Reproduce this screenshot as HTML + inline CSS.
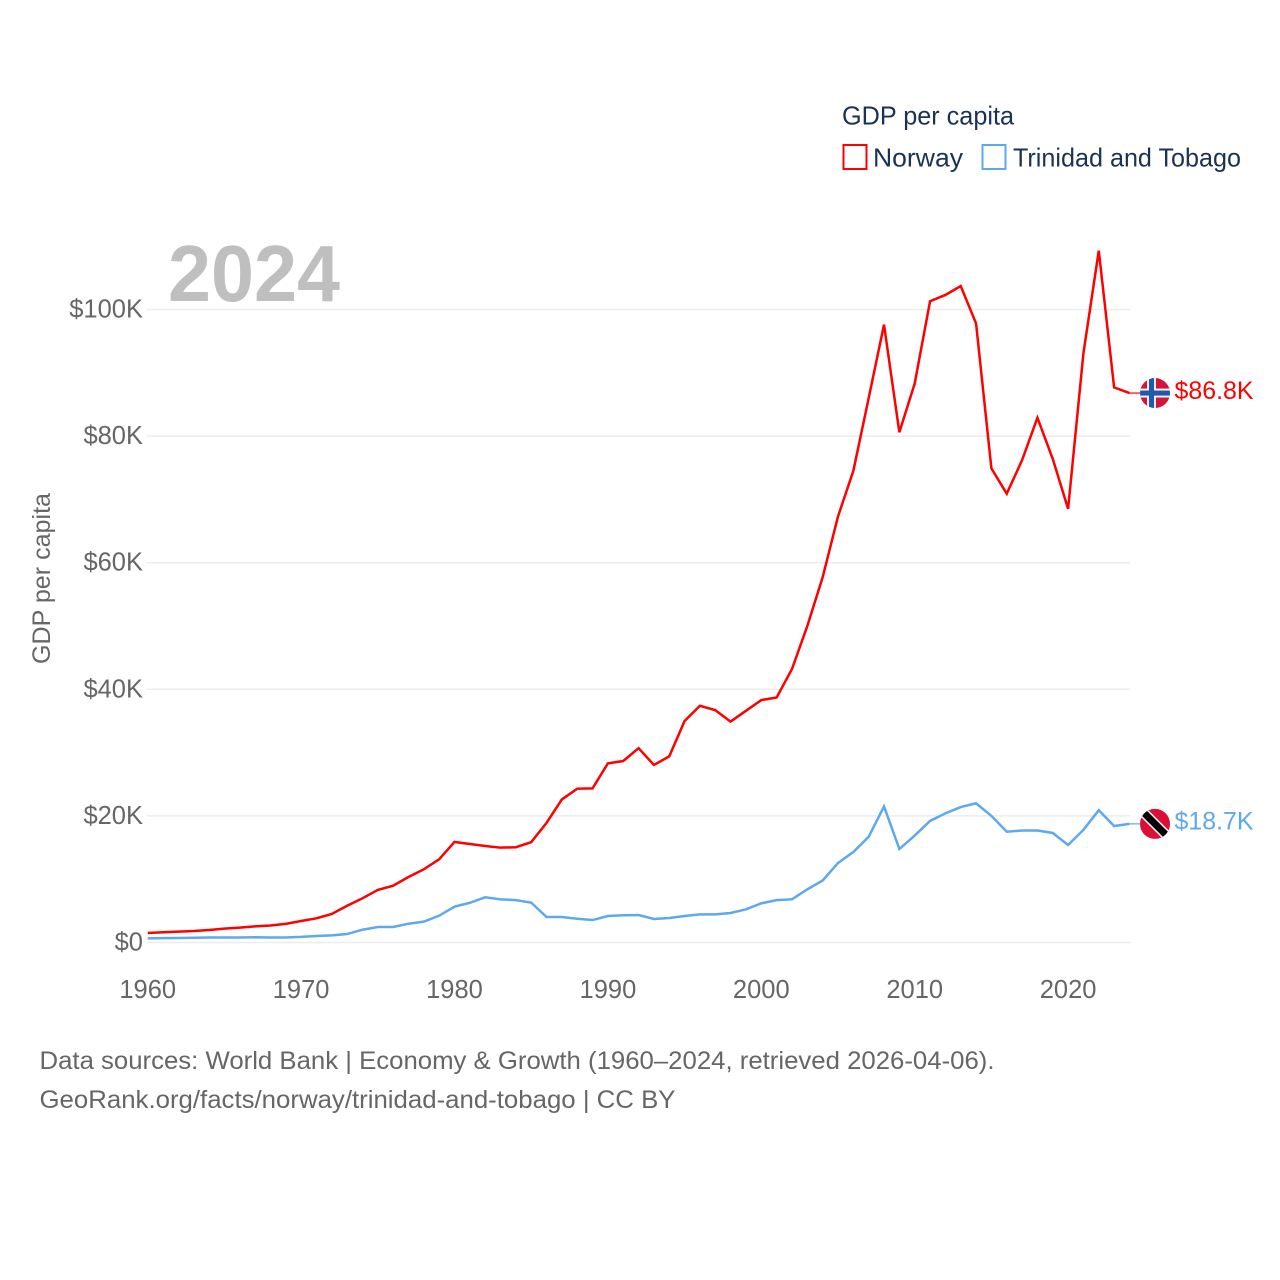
<!DOCTYPE html>
<html lang="en">
<head>
<meta charset="utf-8">
<title>GDP per capita: Norway and Trinidad and Tobago</title>
<style>
html,body{margin:0;padding:0;background:#fff;width:1280px;height:1280px;overflow:hidden}
svg{display:block}
text{font-family:"Liberation Sans","DejaVu Sans",sans-serif}
</style>
</head>
<body>
<svg id="chart" xmlns="http://www.w3.org/2000/svg" width="1280" height="1280" viewBox="0 0 1280 1280">
  <g id="grid"></g>
  <g id="yticks"></g>
  <g id="xticks"></g>
  <text x="168" y="301" font-size="80" font-weight="700" fill="#bfbfbf" textLength="172" lengthAdjust="spacingAndGlyphs">2024</text>
  <text transform="translate(50,578.5) rotate(-90)" text-anchor="middle" font-size="25" fill="#666" textLength="171" lengthAdjust="spacingAndGlyphs">GDP per capita</text>
  <g id="series"></g>
  <g id="ends"></g>

  <g>
    <text x="842" y="124.5" font-size="26" fill="#1a3355" textLength="172" lengthAdjust="spacingAndGlyphs">GDP per capita</text>
    <g>
      <rect x="843.5" y="145" width="23" height="24" fill="#fff" stroke="#ff0000" stroke-width="2"/>
      <text x="873" y="166.5" font-size="26" fill="#1a3355" textLength="90" lengthAdjust="spacingAndGlyphs">Norway</text>
    </g>
    <g>
      <rect x="982.5" y="145" width="23" height="24" fill="#fff" stroke="#5ea8ee" stroke-width="2"/>
      <text x="1013" y="166.5" font-size="26" fill="#1a3355" textLength="228" lengthAdjust="spacingAndGlyphs">Trinidad and Tobago</text>
    </g>
  </g>

  <g>
    <text x="39.5" y="1069" font-size="25" fill="#666" textLength="955" lengthAdjust="spacingAndGlyphs">Data sources: World Bank | Economy &amp; Growth (1960–2024, retrieved 2026-04-06).</text>
    <text x="39.5" y="1108" font-size="25" fill="#666" textLength="636" lengthAdjust="spacingAndGlyphs">GeoRank.org/facts/norway/trinidad-and-tobago | CC BY</text>
  </g>
</svg>

<script>
const years = [1960,1961,1962,1963,1964,1965,1966,1967,1968,1969,
  1970,1971,1972,1973,1974,1975,1976,1977,1978,1979,
  1980,1981,1982,1983,1984,1985,1986,1987,1988,1989,
  1990,1991,1992,1993,1994,1995,1996,1997,1998,1999,
  2000,2001,2002,2003,2004,2005,2006,2007,2008,2009,
  2010,2011,2012,2013,2014,2015,2016,2017,2018,2019,
  2020,2021,2022,2023,2024];
const norwayValues = [1.5,1.62,1.72,1.82,1.98,2.2,2.35,2.54,2.68,2.95,
  3.4,3.82,4.5,5.8,6.98,8.3,8.97,10.35,11.56,13.14,
  15.88,15.56,15.25,14.98,15.05,15.85,18.9,22.6,24.3,24.35,
  28.3,28.67,30.7,28.05,29.4,35.0,37.4,36.7,34.9,36.6,
  38.3,38.7,43.2,50.0,57.7,67.3,74.5,86.0,97.6,80.6,
  88.3,101.3,102.3,103.7,97.8,74.9,70.9,76.2,82.9,76.4,
  68.5,93.1,109.3,87.7,86.8];
const trinidadValues = [0.66,0.7,0.72,0.75,0.78,0.8,0.78,0.82,0.8,0.8,
  0.88,1.03,1.13,1.34,2.02,2.45,2.45,2.97,3.29,4.24,
  5.66,6.28,7.14,6.82,6.7,6.3,4.03,4.03,3.76,3.55,
  4.19,4.3,4.34,3.71,3.87,4.19,4.45,4.45,4.66,5.24,
  6.19,6.7,6.82,8.4,9.8,12.56,14.3,16.7,21.5,14.77,
  16.9,19.2,20.4,21.4,22.0,20.0,17.5,17.7,17.7,17.3,
  15.4,17.8,20.9,18.4,18.74];
const yTickValues = [0,20,40,60,80,100];
const yTickLabels = ["$0","$20K","$40K","$60K","$80K","$100K"];
const xTickValues = [1960,1970,1980,1990,2000,2010,2020];
const xTickLabels = ["1960","1970","1980","1990","2000","2010","2020"];
const norwayEndLabel = "$86.8K";
const trinidadEndLabel = "$18.7K";

const NS = "http://www.w3.org/2000/svg";
const xOf = function (year) { return 147.7 + (year - 1960) * 15.34; };
const yOf = function (k) { return 942.5 - k * 6.33; };
const make = function (tag, attrs, parent) {
  const el = document.createElementNS(NS, tag);
  for (const k in attrs) el.setAttribute(k, attrs[k]);
  parent.appendChild(el);
  return el;
};

const gridG = document.getElementById("grid");
const yG = document.getElementById("yticks");
yTickValues.forEach(function (v, i) {
  const line = make("line", {x1: 147, x2: 1130, y1: yOf(v), y2: yOf(v), stroke: "#ececec", "stroke-width": 1.5}, gridG);
  
  
  const label = make("text", {x: 143, y: yOf(v) + 8, "text-anchor": "end", "font-size": 25.5, fill: "#666"}, yG);
  
  
  label.textContent = yTickLabels[i];
});

const xG = document.getElementById("xticks");
xTickValues.forEach(function (v, i) {
  const label = make("text", {x: xOf(v), y: 998, "text-anchor": "middle", "font-size": 25.5, fill: "#666"}, xG);
  
  
  label.textContent = xTickLabels[i];
});

const seriesG = document.getElementById("series");
const linePoints = function (vals) {
  return vals.map(function (v, i) { return xOf(years[i]).toFixed(2) + "," + yOf(v).toFixed(2); }).join(" ");
};

const trinidadLine = make("polyline", {points: linePoints(trinidadValues), fill: "none", stroke: "#5ea8ee", "stroke-width": 2.5, "stroke-linejoin": "miter"}, seriesG);



const norwayLine = make("polyline", {points: linePoints(norwayValues), fill: "none", stroke: "#ff0000", "stroke-width": 2.5, "stroke-linejoin": "miter"}, seriesG);



const endsG = document.getElementById("ends");
const defs = make("defs", {}, endsG);
const lastX = xOf(years[years.length - 1]);

/* Norway end marker */
const noY = yOf(norwayValues[norwayValues.length - 1]);
const noClip = make("clipPath", {id: "clip-no"}, defs);
make("circle", {cx: 0, cy: 0, r: 15}, noClip);
const noConn = make("line", {x1: lastX, x2: 1141, y1: noY, y2: noY, stroke: "#ff0000", "stroke-width": 1.2}, endsG);


const noFlag = make("g", {transform: "translate(1155," + noY + ")", "clip-path": "url(#clip-no)"}, endsG);


make("rect", {x: -16, y: -16, width: 32, height: 32, fill: "#d5143c"}, noFlag);
make("rect", {x: -8, y: -16, width: 9, height: 32, fill: "#eef0f4"}, noFlag);
make("rect", {x: -16, y: -4.5, width: 32, height: 9, fill: "#eef0f4"}, noFlag);
make("rect", {x: -6, y: -16, width: 5, height: 32, fill: "#1c5bb0"}, noFlag);
make("rect", {x: -16, y: -2.5, width: 32, height: 5, fill: "#1c5bb0"}, noFlag);
const noLabel = make("text", {x: 1174.5, y: noY + 6, "font-size": 25, fill: "#ff0000", textLength: 79, lengthAdjust: "spacingAndGlyphs"}, endsG);


noLabel.textContent = norwayEndLabel;

/* Trinidad and Tobago end marker */
const ttY = yOf(trinidadValues[trinidadValues.length - 1]);
const ttClip = make("clipPath", {id: "clip-tt"}, defs);
make("circle", {cx: 0, cy: 0, r: 15}, ttClip);
const ttConn = make("line", {x1: lastX, x2: 1141, y1: ttY, y2: ttY, stroke: "#5ea8ee", "stroke-width": 1.2}, endsG);


const ttFlag = make("g", {transform: "translate(1155," + ttY + ")", "clip-path": "url(#clip-tt)"}, endsG);


make("rect", {x: -16, y: -16, width: 32, height: 32, fill: "#dc0f37"}, ttFlag);
make("line", {x1: -16, y1: -16, x2: 16, y2: 16, stroke: "#ffffff", "stroke-width": 10}, ttFlag);
make("line", {x1: -16, y1: -16, x2: 16, y2: 16, stroke: "#000000", "stroke-width": 7}, ttFlag);
const ttLabel = make("text", {x: 1174.5, y: ttY + 5.5, "font-size": 25, fill: "#5ea8ee", textLength: 79, lengthAdjust: "spacingAndGlyphs"}, endsG);


ttLabel.textContent = trinidadEndLabel;
</script>
</body>
</html>
